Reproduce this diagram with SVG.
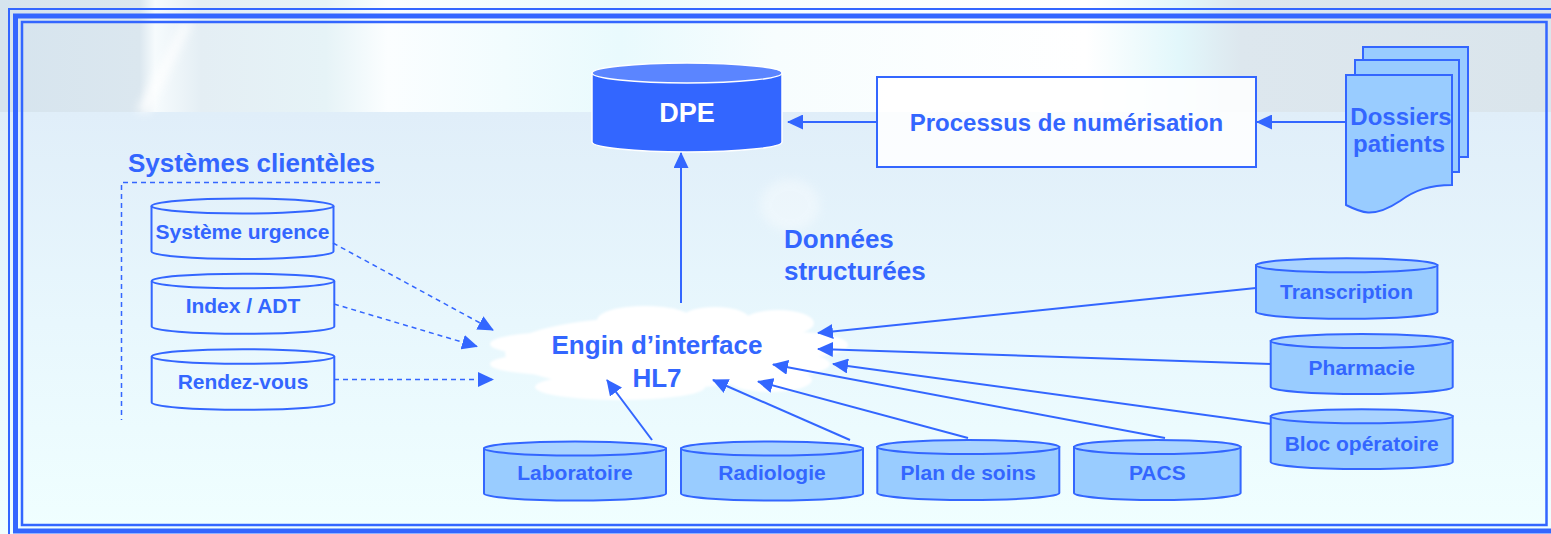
<svg xmlns="http://www.w3.org/2000/svg" width="1551" height="534" viewBox="0 0 1551 534">
<defs>
<linearGradient id="topg" x1="0" y1="0" x2="1" y2="0">
<stop offset="0" stop-color="#d6e4ee"/>
<stop offset="0.09" stop-color="#dbe7ef"/>
<stop offset="0.1" stop-color="#f6fbfd"/>
<stop offset="0.13" stop-color="#e4eef4"/>
<stop offset="0.21" stop-color="#e6f3f7"/>
<stop offset="0.25" stop-color="#fbfeff"/>
<stop offset="0.4" stop-color="#e9fafd"/>
<stop offset="0.5" stop-color="#f7fdfe"/>
<stop offset="0.7" stop-color="#ffffff"/>
<stop offset="0.76" stop-color="#e2f7fb"/>
<stop offset="0.8" stop-color="#dde7ee"/>
<stop offset="1" stop-color="#dae5ec"/>
</linearGradient>
<linearGradient id="botg" x1="0" y1="0" x2="0" y2="1">
<stop offset="0" stop-color="#e0eef9"/>
<stop offset="0.5" stop-color="#e8f7fd"/>
<stop offset="1" stop-color="#f0ffff"/>
</linearGradient>
<filter id="blur" x="-10%" y="-20%" width="120%" height="140%"><feGaussianBlur stdDeviation="1.2"/></filter>
<filter id="blur4" x="-50%" y="-50%" width="200%" height="200%"><feGaussianBlur stdDeviation="5"/></filter>
<marker id="ah" markerUnits="userSpaceOnUse" markerWidth="16" markerHeight="15" refX="15" refY="7.5" orient="auto">
<path d="M0,0 L16,7.5 L0,15 Z" fill="#3366ff"/>
</marker>
<style>
.t{font-family:"Liberation Sans",Arial,sans-serif;font-weight:bold;fill:#3366ff;text-anchor:middle}
.lbl{font-size:21px}
.cyl{stroke:#3366ff;stroke-width:2}
.lc{fill:#99ccff}
.lt{fill:#a9d3ff}
.ln{fill:none}
.con{stroke:#3366ff;stroke-width:2;fill:none;marker-end:url(#ah)}
.dash{stroke:#3366ff;stroke-width:1.5;fill:none;stroke-dasharray:5 4}
.fr{fill:none;stroke:#3366ff}
</style>
</defs>

<g id="background">
<rect x="0" y="0" width="1551" height="534" fill="#e4f2fb"/>
<rect x="0" y="0" width="1551" height="112" fill="url(#topg)"/>
<rect x="0" y="112" width="1551" height="422" fill="url(#botg)"/>
<polygon points="136,112 150,112 192,22 183,22" fill="#ffffff" opacity="0.8" filter="url(#blur4)"/>
<ellipse cx="790" cy="205" rx="30" ry="26" fill="#ffffff" opacity="0.35" filter="url(#blur4)"/>
</g>

<g id="frame">
<rect class="fr" x="9" y="9" width="1560" height="540" stroke-width="2"/>
<rect class="fr" x="15.5" y="16" width="1538" height="515" stroke-width="5"/>
<rect class="fr" x="22" y="22" width="1524.5" height="503" stroke-width="2.5"/>
</g>

<g id="systemes-clienteles">
<path class="dash" d="M380,182.5 H121.5 V420"/>
<text class="t" x="251.5" y="172" font-size="26">Systèmes clientèles</text>
</g>

<g id="dpe">
<path d="M592,73 V142 A95,10 0 0 0 782,142 V73 Z" fill="#3366ff" stroke="#ffffff" stroke-width="1.5"/>
<ellipse cx="687" cy="73" rx="95" ry="10" fill="#5b85ff" stroke="#ffffff" stroke-width="1.5"/>
<text class="t" x="687" y="122" font-size="27" style="fill:#ffffff">DPE</text>
</g>

<g id="processus">
<rect x="877" y="77" width="379" height="90" fill="#ffffff" fill-opacity="0.85" stroke="#3366ff" stroke-width="2"/>
<text class="t" x="1066.5" y="131" font-size="24">Processus de numérisation</text>
</g>

<g id="dossiers">
<rect x="1363" y="47" width="105" height="110" fill="#99ccff" stroke="#3366ff" stroke-width="2"/>
<rect x="1355" y="60" width="104" height="112" fill="#99ccff" stroke="#3366ff" stroke-width="2"/>
<path d="M1346,75 H1452 V185 C1430,185 1415,190 1400,201 C1388,209 1378,213 1368,212.5 C1360,212 1352,208 1346,205 Z" fill="#99ccff" stroke="#3366ff" stroke-width="2"/>
<text class="t" x="1401" y="125" font-size="24">Dossiers</text>
<text class="t" x="1399" y="152" font-size="24">patients</text>
</g>

<g id="donnees">
<text class="t" x="784" y="248" font-size="26" style="text-anchor:start">Données</text>
<text class="t" x="784" y="280" font-size="26" style="text-anchor:start">structurées</text>
</g>

<g id="engin">
<g fill="#ffffff" filter="url(#blur)">
<ellipse cx="645" cy="320" rx="48" ry="14"/>
<ellipse cx="715" cy="321" rx="36" ry="14"/>
<ellipse cx="778" cy="323" rx="36" ry="13"/>
<ellipse cx="795" cy="345" rx="53" ry="13"/>
<ellipse cx="558" cy="344" rx="68" ry="12"/>
<ellipse cx="558" cy="364" rx="68" ry="11"/>
<ellipse cx="655" cy="353" rx="150" ry="36"/>
<ellipse cx="620" cy="387" rx="85" ry="13"/>
<ellipse cx="770" cy="380" rx="42" ry="12"/>
<ellipse cx="770" cy="364" rx="60" ry="13"/>
</g>
<text class="t" x="657" y="354" font-size="26">Engin d’interface</text>
<text class="t" x="657" y="387" font-size="26">HL7</text>
</g>

<g id="systeme-urgence">
<path class="cyl ln" d="M151.5,206 V251.5 A91,7.5 0 0 0 333.5,251.5 V206"/>
<ellipse class="cyl ln" cx="242.5" cy="206" rx="91" ry="7.5"/>
<text class="t lbl" x="242.5" y="239">Système urgence</text>
</g>
<g id="index-adt">
<path class="cyl ln" d="M151.7,281 V326.5 A91.3,7.3 0 0 0 334.3,326.5 V281"/>
<ellipse class="cyl ln" cx="243" cy="281" rx="91.3" ry="7.3"/>
<text class="t lbl" x="243" y="313">Index / ADT</text>
</g>
<g id="rendez-vous">
<path class="cyl ln" d="M151.7,356.5 V402.5 A91.3,7.3 0 0 0 334.3,402.5 V356.5"/>
<ellipse class="cyl ln" cx="243" cy="356.5" rx="91.3" ry="7.3"/>
<text class="t lbl" x="243" y="389">Rendez-vous</text>
</g>

<g id="laboratoire">
<path class="cyl lc" d="M484,448.5 V493.5 A91,7 0 0 0 666,493.5 V448.5 Z"/>
<ellipse class="cyl lt" cx="575" cy="448.5" rx="91" ry="7"/>
<text class="t lbl" x="575" y="480">Laboratoire</text>
</g>
<g id="radiologie">
<path class="cyl lc" d="M681,448.5 V493.5 A91,7 0 0 0 863,493.5 V448.5 Z"/>
<ellipse class="cyl lt" cx="772" cy="448.5" rx="91" ry="7"/>
<text class="t lbl" x="772" y="480">Radiologie</text>
</g>
<g id="plan-de-soins">
<path class="cyl lc" d="M877.3,447 V493 A91,7 0 0 0 1059.3,493 V447 Z"/>
<ellipse class="cyl lt" cx="968.3" cy="447" rx="91" ry="7"/>
<text class="t lbl" x="968.3" y="480">Plan de soins</text>
</g>
<g id="pacs">
<path class="cyl lc" d="M1074,447 V493 A83.3,7 0 0 0 1240.6,493 V447 Z"/>
<ellipse class="cyl lt" cx="1157.3" cy="447" rx="83.3" ry="7"/>
<text class="t lbl" x="1157.3" y="480">PACS</text>
</g>

<g id="transcription">
<path class="cyl lc" d="M1256,265.3 V311.7 A90.7,7 0 0 0 1437.4,311.7 V265.3 Z"/>
<ellipse class="cyl lt" cx="1346.7" cy="265.3" rx="90.7" ry="7"/>
<text class="t lbl" x="1346.5" y="299.3">Transcription</text>
</g>
<g id="pharmacie">
<path class="cyl lc" d="M1270.7,341 V387 A91,7 0 0 0 1452.7,387 V341 Z"/>
<ellipse class="cyl lt" cx="1361.7" cy="341" rx="91" ry="7"/>
<text class="t lbl" x="1361.7" y="375">Pharmacie</text>
</g>
<g id="bloc-operatoire">
<path class="cyl lc" d="M1270.7,416.3 V462 A91,7 0 0 0 1452.7,462 V416.3 Z"/>
<ellipse class="cyl lt" cx="1361.7" cy="416.3" rx="91" ry="7"/>
<text class="t lbl" x="1361.7" y="450.7">Bloc opératoire</text>
</g>

<g id="connectors">
<path class="con" d="M877,122 L788,122"/>
<path class="con" d="M1346,122 L1257,122"/>
<path class="con" d="M681,303 L681,153"/>
<path class="dash" d="M333,243 L493,330" marker-end="url(#ah)"/>
<path class="dash" d="M334,304 L477,346.5" marker-end="url(#ah)"/>
<path class="dash" d="M334,379.5 L493,379.5" marker-end="url(#ah)"/>
<path class="con" d="M1256,288 L818,333"/>
<path class="con" d="M1271,364 L818,349"/>
<path class="con" d="M1271,424 L833,364"/>
<path class="con" d="M1165,438 L773,364.5"/>
<path class="con" d="M968,438 L758,381.5"/>
<path class="con" d="M850,440 L713,380"/>
<path class="con" d="M652,440 L607,380"/>
</g>
</svg>
